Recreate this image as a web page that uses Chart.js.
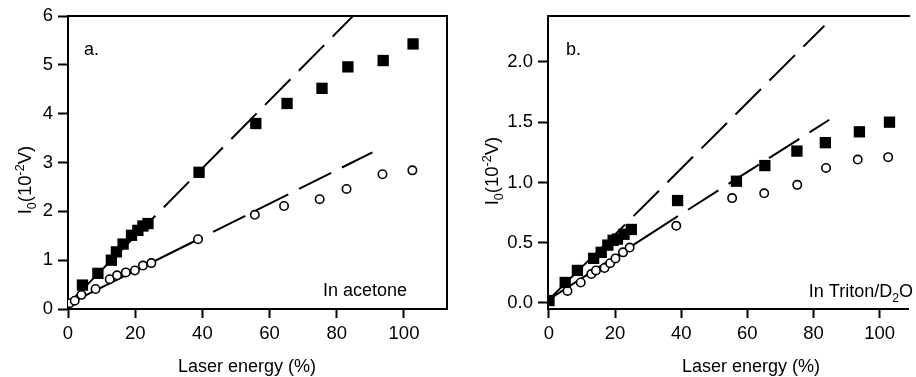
<!DOCTYPE html>
<html><head><meta charset="utf-8">
<script src="https://cdn.jsdelivr.net/npm/chart.js@4.4.0/dist/chart.umd.min.js"></script>
<style>
html,body{margin:0;padding:0;background:#fff;overflow:hidden;}
#wrap{position:relative;width:916px;height:377px;}
.p{position:absolute;top:0;width:458px;height:377px;}
#pa{left:0;}
#pb{left:458px;}
</style></head><body>
<div id="wrap">
<div class="p" id="pa"><canvas id="ca"></canvas></div>
<div class="p" id="pb"><canvas id="cb"></canvas></div>
</div>
<script>
// ---------- Panel a: In acetone ----------
const aSquareX = [4.3, 8.9, 12.9, 14.4, 16.4, 18.9, 20.8, 22.3, 23.8, 39.0, 55.9, 65.2, 75.6, 83.3, 93.8, 102.7];
const aSquareY = [0.49, 0.73, 1.00, 1.17, 1.33, 1.51, 1.61, 1.70, 1.75, 2.80, 3.80, 4.21, 4.52, 4.96, 5.09, 5.43];
const aCircleX = [0.5, 2.0, 4.0, 8.2, 12.4, 14.6, 17.2, 19.9, 22.3, 24.8, 38.7, 55.6, 64.3, 74.9, 82.9, 93.6, 102.5];
const aCircleY = [0.12, 0.17, 0.29, 0.41, 0.61, 0.69, 0.75, 0.79, 0.89, 0.94, 1.43, 1.93, 2.11, 2.25, 2.46, 2.76, 2.84];
const aSqFitX = [0, 26, 84.8];
const aSqFitY = [0.10, 1.91, 6.0];
const aCiFitX = [0, 40, 90.6];
const aCiFitY = [0.10, 1.47, 3.21];
const aYTicks = [0, 1, 2, 3, 4, 5, 6];
const aXTicks = [0, 20, 40, 60, 80, 100];

// ---------- Panel b: In Triton/D2O ----------
const bSquareX = [0, 4.9, 8.6, 13.5, 15.8, 17.8, 19.4, 20.7, 22.7, 24.9, 38.9, 56.7, 65.3, 75.0, 83.6, 93.9, 103.0];
const bSquareY = [0.02, 0.17, 0.27, 0.37, 0.42, 0.48, 0.52, 0.53, 0.57, 0.61, 0.85, 1.01, 1.14, 1.26, 1.33, 1.42, 1.50];
const bCircleX = [5.6, 9.6, 12.8, 14.2, 16.8, 18.5, 20.1, 22.4, 24.4, 38.5, 55.4, 65.1, 75.1, 83.8, 93.4, 102.6];
const bCircleY = [0.10, 0.17, 0.24, 0.27, 0.29, 0.33, 0.37, 0.42, 0.46, 0.64, 0.87, 0.91, 0.98, 1.12, 1.19, 1.21];
const bSqFitX = [0, 23, 83.3];
const bSqFitY = [0.03, 0.65, 2.30];
const bCiFitX = [0, 39, 84.8];
const bCiFitY = [0.03, 0.72, 1.52];
const bYTicks = [0.0, 0.5, 1.0, 1.5, 2.0];
const bXTicks = [0, 20, 40, 60, 80, 100];

const xTitle = 'Laser energy (%)';
const yTitleParts = [{t:'I'},{t:'0',sub:true},{t:'(10'},{t:'-2',sup:true},{t:'V)'}];
const aLabel = 'a.';
const bLabel = 'b.';
const aSolvent = [{t:'In acetone'}];
const bSolvent = [{t:'In Triton/D'},{t:'2',sub:true},{t:'O'}];

const FONT = "'Liberation Sans', Arial, Helvetica, sans-serif";
const FS = 18.5;

function pts(xs, ys){ return xs.map((x,i)=>({x:x, y:ys[i]})); }

function drawRich(ctx, parts, x, y, align, fs){
  const small = fs*0.68;
  let w = 0;
  parts.forEach(p=>{
    ctx.font = (p.sub||p.sup ? small : fs) + 'px ' + FONT;
    p._w = ctx.measureText(p.t).width; w += p._w;
  });
  let cx = align==='center' ? x - w/2 : (align==='right' ? x - w : x);
  ctx.textAlign = 'left';
  ctx.textBaseline = 'alphabetic';
  parts.forEach(p=>{
    ctx.font = (p.sub||p.sup ? small : fs) + 'px ' + FONT;
    let dy = p.sub ? fs*0.28 : (p.sup ? -fs*0.38 : 0);
    ctx.fillText(p.t, cx, y + dy);
    cx += p._w;
  });
}

function annotPlugin(cfg){
  return {
    id:'annot',
    afterDraw(chart){
      const ctx = chart.ctx, ca = chart.chartArea;
      ctx.save();
      ctx.strokeStyle = '#000'; ctx.lineWidth = 2;
      ctx.beginPath();
      ctx.moveTo(ca.left, ca.top); ctx.lineTo(ca.right + (cfg.rightBorder?1:2), ca.top);
      if (cfg.rightBorder){ ctx.moveTo(ca.right, ca.top); ctx.lineTo(ca.right, ca.bottom); }
      ctx.stroke();
      ctx.fillStyle = '#000';
      drawRich(ctx, [{t:xTitle}], cfg.xTitlePos[0], cfg.xTitlePos[1], 'center', 18);
      ctx.save();
      ctx.translate(cfg.yTitlePos[0], cfg.yTitlePos[1]);
      ctx.rotate(-Math.PI/2);
      drawRich(ctx, yTitleParts, 0, 6, 'center', 18.5);
      ctx.restore();
      drawRich(ctx, [{t:cfg.label}], ca.left + cfg.labelOff[0], ca.top + cfg.labelOff[1], 'left', 18);
      drawRich(ctx, cfg.solvent, cfg.solventPos[0], cfg.solventPos[1], 'right', 18);
      ctx.restore();
    }
  };
}

function makeChart(id, d){
  const ctx = document.getElementById(id);
  return new Chart(ctx, {
    type:'scatter',
    data:{ datasets:[
      { data: pts(d.sqX, d.sqY), pointStyle:'rect', pointRadius:8, pointBackgroundColor:'#000', pointBorderWidth:0, showLine:false },
      { data: pts(d.ciX, d.ciY), pointStyle:'circle', pointRadius:4.2, pointBackgroundColor:'#fff', pointBorderColor:'#000', pointBorderWidth:1.6, showLine:false },
      { data: pts(d.sfX, d.sfY), showLine:true, pointRadius:0, borderColor:'#000', borderWidth:2,
        segment:{ borderDash: c => c.p0DataIndex === 0 ? [] : [36, 12], borderDashOffset: c => c.p0DataIndex === 0 ? 0 : 36 } },
      { data: pts(d.cfX, d.cfY), showLine:true, pointRadius:0, borderColor:'#000', borderWidth:2,
        segment:{ borderDash: c => c.p0DataIndex === 0 ? [] : [36, 12], borderDashOffset: c => c.p0DataIndex === 0 ? 0 : 36 } }
    ]},
    options:{
      responsive:true, maintainAspectRatio:false, animation:false,
      layout:{ padding:{ top:d.padTop, right:d.padRight, left:0, bottom:0 } },
      plugins:{ legend:{display:false}, tooltip:{enabled:false} },
      scales:{
        x:{ type:'linear', min:d.xMin, max:d.xMax,
          afterFit: s => { s.height = d.xAxisH; },
          afterBuildTicks: s => { s.ticks = d.xTicks.map(v=>({value:v})); },
          border:{ display:true, color:'#000', width:2 },
          grid:{ display:true, drawOnChartArea:false, drawTicks:true, tickLength:9, tickColor:'#000', tickWidth:2, color:'#000' },
          ticks:{ color:'#000', padding:5, font:{ family:FONT, size:FS }, maxRotation:0, autoSkip:false, callback: v => String(v) }
        },
        y:{ type:'linear', min:d.yMin, max:d.yMax,
          afterFit: s => { s.width = d.yAxisW; },
          afterBuildTicks: s => { s.ticks = d.yTicks.map(v=>({value:v})); },
          border:{ display:true, color:'#000', width:2 },
          grid:{ display:true, drawOnChartArea:false, drawTicks:true, tickLength:10, tickColor:'#000', tickWidth:2, color:'#000' },
          ticks:{ color:'#000', padding:5, font:{ family:FONT, size:FS }, autoSkip:false, callback: v => d.yFmt(v) }
        }
      }
    },
    plugins:[ annotPlugin(d.annot) ]
  });
}

makeChart('ca', {
  sqX:aSquareX, sqY:aSquareY, ciX:aCircleX, ciY:aCircleY,
  sfX:aSqFitX, sfY:aSqFitY, cfX:aCiFitX, cfY:aCiFitY,
  xMin:0, xMax:112.8, yMin:0, yMax:6, xTicks:aXTicks, yTicks:aYTicks,
  yFmt: v => String(v),
  padTop:15, padRight:11, yAxisW:68, xAxisH:68,
  annot:{ rightBorder:true, xTitlePos:[247, 372], yTitlePos:[25, 180], label:aLabel, labelOff:[16, 39], solvent:aSolvent, solventPos:[407, 296] }
});

makeChart('cb', {
  sqX:bSquareX, sqY:bSquareY, ciX:bCircleX, ciY:bCircleY,
  sfX:bSqFitX, sfY:bSqFitY, cfX:bCiFitX, cfY:bCiFitY,
  xMin:-0.3, xMax:108.6, yMin:-0.05, yMax:2.38, xTicks:bXTicks, yTicks:bYTicks,
  yFmt: v => Number(v).toFixed(1),
  padTop:14, padRight:0, yAxisW:90, xAxisH:68,
  annot:{ rightBorder:false, xTitlePos:[293, 372], yTitlePos:[34, 171], label:bLabel, labelOff:[18, 39], solvent:bSolvent, solventPos:[455, 297] }
});
</script>
</body></html>
